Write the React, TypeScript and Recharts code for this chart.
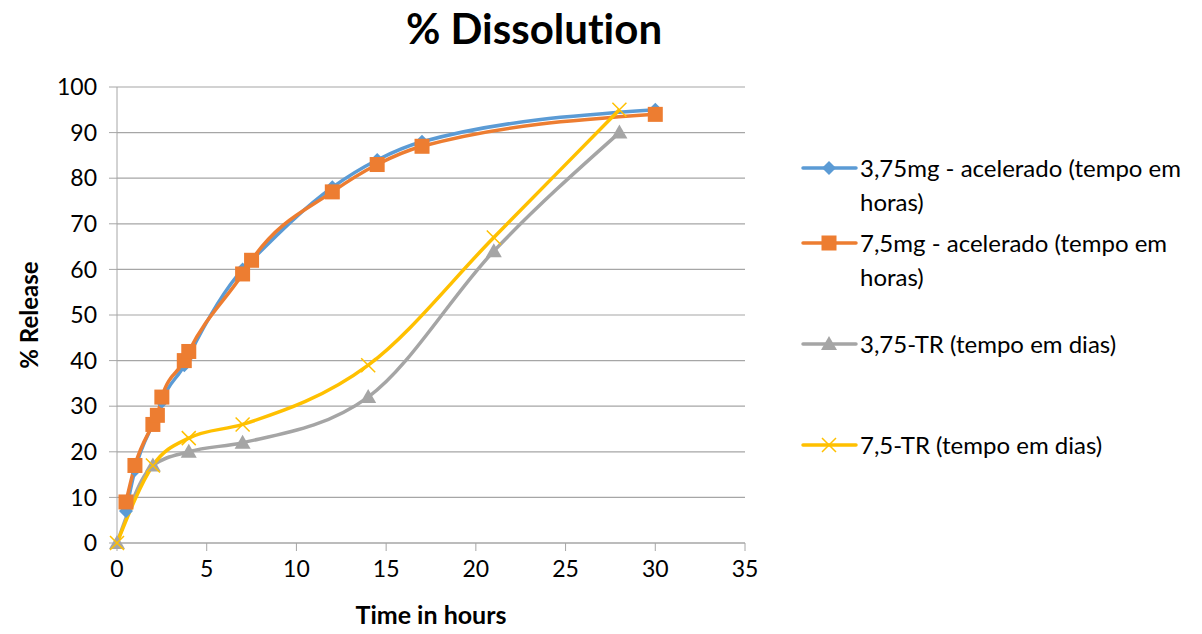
import { LineChart, Line, XAxis, YAxis, CartesianGrid, Legend, Label } from 'recharts'

// release profiles: time (hours / days) vs % released
const hoursAcc = [0.5, 1, 2, 2.25, 2.5, 3.75, 4, 7, 7.5, 12, 14.5, 17, 30]
const release375Acc = [7, 16, 26, 28, 31, 39, 41, 60, 62, 78, 84, 88, 95]
const release75Acc = [9, 17, 26, 28, 32, 40, 42, 59, 62, 77, 83, 87, 94]

const daysTR = [0, 2, 4, 7, 14, 21, 28]
const release375TR = [0, 17, 20, 22, 32, 64, 90]
const release75TR = [0, 17, 23, 26, 39, 67, 95]

const xTicks = [0, 5, 10, 15, 20, 25, 30, 35]
const yTicks = [0, 10, 20, 30, 40, 50, 60, 70, 80, 90, 100]

const toPoints = (xs: number[], ys: number[]) => xs.map((t, i) => ({ t, v: ys[i] }))

const series = [
  { name: '3,75mg - acelerado (tempo em horas)', lines: ['3,75mg - acelerado (tempo em', 'horas)'], color: '#5b9bd5', marker: 'diamond', data: toPoints(hoursAcc, release375Acc) },
  { name: '7,5mg - acelerado (tempo em horas)', lines: ['7,5mg - acelerado (tempo em', 'horas)'], color: '#ed7d31', marker: 'square', data: toPoints(hoursAcc, release75Acc) },
  { name: '3,75-TR (tempo em dias)', lines: ['3,75-TR (tempo em dias)'], color: '#a5a5a5', marker: 'triangle', data: toPoints(daysTR, release375TR) },
  { name: '7,5-TR (tempo em dias)', lines: ['7,5-TR (tempo em dias)'], color: '#ffc000', marker: 'cross', data: toPoints(daysTR, release75TR) },
]

const FONT = 'Lato, "Open Sans", sans-serif'

function Marker({ kind, cx, cy, color }: { kind: string; cx: number; cy: number; color: string }) {
  if (kind === 'diamond') {
    const r = 7
    return <path d={`M${cx},${cy - r}L${cx + r},${cy}L${cx},${cy + r}L${cx - r},${cy}Z`} fill={color} />
  }
  if (kind === 'square') {
    const r = 7.5
    return <rect x={cx - r} y={cy - r} width={r * 2} height={r * 2} fill={color} />
  }
  if (kind === 'triangle') {
    const r = 8
    return <path d={`M${cx},${cy - r}L${cx + r},${cy + r * 0.75}L${cx - r},${cy + r * 0.75}Z`} fill={color} />
  }
  const r = 7
  return (
    <path d={`M${cx - r},${cy - r}L${cx + r},${cy + r}M${cx + r},${cy - r}L${cx - r},${cy + r}`} stroke={color} strokeWidth={1.5} fill="none" />
  )
}

const itemTops = [0, 7, 33, 67]

function LegendBox() {
  return (
    <div style={{ fontFamily: FONT, fontSize: 24, color: '#000', lineHeight: '34px', fontVariantLigatures: 'none' }}>
      {series.map((s, i) => (
        <div key={s.name} style={{ display: 'flex', marginTop: itemTops[i] }}>
          <svg width={59} height={34} style={{ flex: 'none' }}>
            <line x1={2} y1={17} x2={55} y2={17} stroke={s.color} strokeWidth={3.5} strokeLinecap="round" />
            <Marker kind={s.marker} cx={28} cy={17} color={s.color} />
          </svg>
          <div style={{ whiteSpace: 'nowrap' }}>
            {s.lines.map((l) => (
              <div key={l}>{l}</div>
            ))}
          </div>
        </div>
      ))}
    </div>
  )
}

export default function App() {
  return (
    <div style={{ position: 'absolute', left: 0, top: 0, width: 1202, height: 634, background: '#fff' }}>
      <div
        style={{
          position: 'absolute',
          left: 0,
          top: 1,
          width: 1068,
          textAlign: 'center',
          fontFamily: FONT,
          fontWeight: 700,
          fontSize: 42,
          lineHeight: '54px',
          color: '#000',
          fontVariantLigatures: 'none',
        }}
      >
        % Dissolution
      </div>
      <LineChart width={1202} height={634} margin={{ top: 87, right: 457, bottom: 61, left: 57 }}>
        <CartesianGrid vertical={false} stroke="#a6a6a6" strokeWidth={1.2} />
        <XAxis
          type="number"
          dataKey="t"
          domain={[0, 35]}
          ticks={xTicks}
          height={30}
          stroke="#a6a6a6"
          tickSize={8}
          tick={{ fontFamily: FONT, fontSize: 23, fill: '#000' }}
          tickMargin={10}
          allowDuplicatedCategory={false}
        >
          <Label
            content={() => (
              <text x={431} y={618} textAnchor="middle" dominantBaseline="middle" fontFamily={FONT} fontSize={25} fontWeight={700} fill="#000">
                Time in hours
              </text>
            )}
          />
        </XAxis>
        <YAxis
          type="number"
          domain={[0, 100]}
          ticks={yTicks}
          width={60}
          stroke="#a6a6a6"
          tickSize={8}
          tickMargin={12}
          tick={{ fontFamily: FONT, fontSize: 23, fill: '#000' }}
        >
          <Label
            content={() => (
              <text
                x={32}
                y={315}
                transform="rotate(-90 32 315)"
                textAnchor="middle"
                dominantBaseline="middle"
                fontFamily={FONT}
                fontSize={24}
                fontWeight={700}
                fill="#000"
              >
                % Release
              </text>
            )}
          />
        </YAxis>
        <Legend
          layout="vertical"
          align="center"
          verticalAlign="middle"
          wrapperStyle={{ left: 801, top: 151, width: 401 }}
          content={() => <LegendBox />}
        />
        {series.map((s) => (
          <Line
            key={s.name}
            name={s.name}
            data={s.data}
            dataKey="v"
            type="monotone"
            stroke={s.color}
            strokeWidth={3.5}
            isAnimationActive={false}
            activeDot={false}
            dot={(p: any) => <Marker key={`${s.name}-${p.index}`} kind={s.marker} cx={p.cx} cy={p.cy} color={s.color} />}
          />
        ))}
      </LineChart>
    </div>
  )
}
